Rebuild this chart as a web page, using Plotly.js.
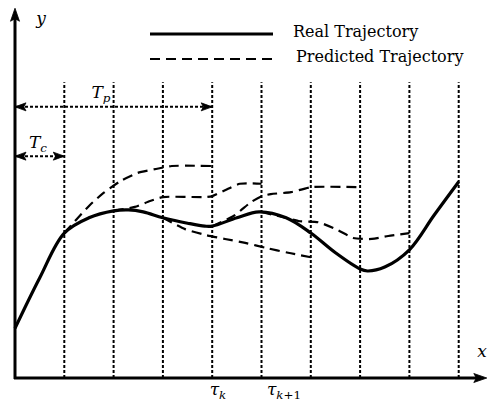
<!DOCTYPE html>
<html><head><meta charset="utf-8">
<script src="https://cdn.plot.ly/plotly-3.0.1.min.js"></script>
<style>html,body{margin:0;padding:0;background:#fff;}</style>
</head><body><div id="chart" style="width:489px;height:403px;"></div>
<script>
// ---- data (chart units: one sampling interval = 1) ----
const sampleTimes = [1, 2, 3, 4, 5, 6, 7, 8, 9];

const realX = [0, 0.5, 1, 1.5, 2, 2.3, 2.6, 3, 3.5, 3.85, 4, 4.5, 4.95, 5.5, 6, 6.5, 7, 7.15, 7.5, 8, 8.5, 9];
const realY = [1.01, 2.03, 2.94, 3.25, 3.39, 3.41, 3.37, 3.25, 3.14, 3.08, 3.08, 3.25, 3.37, 3.25, 2.94, 2.54, 2.21, 2.17, 2.25, 2.60, 3.30, 3.98];

const pred1X = [1, 1.26, 1.52, 1.79, 2.15, 2.49, 2.86, 3.18, 4];
const pred1Y = [2.94, 3.23, 3.51, 3.75, 4.00, 4.16, 4.24, 4.30, 4.30];

const pred2X = [2, 2.43, 2.74, 3, 3.85, 4, 4.26, 4.56, 5];
const pred2Y = [3.39, 3.47, 3.59, 3.67, 3.67, 3.69, 3.81, 3.94, 3.94];

const pred3X = [3, 3.45, 3.87, 4.26, 4.67, 5.09, 5.54, 6];
const pred3Y = [3.25, 3.02, 2.90, 2.82, 2.74, 2.64, 2.54, 2.45];

const pred4X = [4, 4.44, 4.79, 5.01, 5.19, 5.6, 6, 7];
const pred4Y = [3.08, 3.29, 3.57, 3.69, 3.73, 3.77, 3.87, 3.87];

const pred5X = [5, 5.48, 5.78, 6.15, 6.55, 6.86, 7.24, 7.57, 8];
const pred5Y = [3.37, 3.25, 3.18, 3.16, 3.00, 2.84, 2.82, 2.88, 2.94];

const predictions = [[pred1X, pred1Y], [pred2X, pred2Y], [pred3X, pred3Y], [pred4X, pred4Y], [pred5X, pred5Y]];

const gridTop = 6;
const Tp = 4, TpLevel = 5.5;
const Tc = 1, TcLevel = 4.5;
const yAxisTop = 7.5, xAxisEnd = 9.57;

const axisLabels = ['<i>y</i>', '<i>x</i>'];
const horizonLabels = ['<i>T</i><sub><i>p</i></sub>', '<i>T</i><sub><i>c</i></sub>'];
const instantLabels = ['<i>τ</i><sub><i>k</i></sub>', '<i>τ</i><sub><i>k</i>+1</sub>'];
const legendLabels = ['Real Trajectory', 'Predicted Trajectory'];

// ---- layout helpers (pixel -> chart units) ----
const U = 49.3, OX = 15, OY = 378;
const X = px => (px - OX) / U;
const Y = py => (OY - py) / U;

const serif = '"DejaVu Serif", serif';
const dotted = '3px,2px';

const traces = [];
predictions.forEach(([px, py]) => {
  traces.push({x: px, y: py, mode: 'lines', line: {color: 'black', width: 2.2, dash: '10px,6px', shape: 'spline', smoothing: 0.6}, hoverinfo: 'skip', showlegend: false, name: 'Predicted Trajectory'});
});
traces.push({x: realX, y: realY, mode: 'lines', line: {color: 'black', width: 3.2, shape: 'spline', smoothing: 1}, hoverinfo: 'skip', showlegend: false, name: 'Real Trajectory'});

traces.push({
  x: [X(41), X(482), X(101), X(38), X(218), X(284)],
  y: [Y(20), Y(353), Y(94), Y(144), Y(391), Y(391)],
  text: axisLabels.concat(horizonLabels, instantLabels),
  mode: 'text', textposition: 'middle center',
  textfont: {family: serif, size: 17, color: 'black'},
  hoverinfo: 'skip', showlegend: false
});
traces.push({
  x: [X(293), X(296)],
  y: [Y(33), Y(58)],
  text: legendLabels,
  mode: 'text', textposition: 'middle right',
  textfont: {family: serif, size: 16, color: 'black'},
  hoverinfo: 'skip', showlegend: false
});

const shapes = [];
sampleTimes.forEach(t => shapes.push({type: 'line', xref: 'x', yref: 'y', x0: t, x1: t, y0: 0, y1: gridTop, line: {color: 'black', width: 2, dash: dotted}}));
shapes.push({type: 'line', x0: 0, x1: Tp, y0: TpLevel, y1: TpLevel, line: {color: 'black', width: 2, dash: dotted}});
shapes.push({type: 'line', x0: 0, x1: Tc, y0: TcLevel, y1: TcLevel, line: {color: 'black', width: 2, dash: dotted}});
shapes.push({type: 'line', x0: 0, x1: 0, y0: -0.02, y1: yAxisTop - 0.15, line: {color: 'black', width: 3}});
shapes.push({type: 'line', x0: -0.02, x1: xAxisEnd - 0.15, y0: 0, y1: 0, line: {color: 'black', width: 3}});
shapes.push({type: 'line', x0: X(150), x1: X(273), y0: Y(34), y1: Y(34), line: {color: 'black', width: 3}});
shapes.push({type: 'line', x0: X(150), x1: X(275), y0: Y(59), y1: Y(59), line: {color: 'black', width: 2, dash: '10px,6px'}});

function head(xt, yt, dx, dy, len, hw) {
  const L = len / U, H = hw / U, N = 0.8 * L;
  const bx = xt - dx * L, by = yt - dy * L;
  const nx = xt - dx * N, ny = yt - dy * N;
  const px = -dy * H, py = dx * H;
  const p = `M${xt},${yt} L${bx + px},${by + py} L${nx},${ny} L${bx - px},${by - py} Z`;
  return {type: 'path', path: p, fillcolor: 'black', line: {color: 'black', width: 0.8}};
}
shapes.push(head(0, yAxisTop, 0, 1, 13, 4.5));
shapes.push(head(xAxisEnd, 0, 1, 0, 13, 4.5));
shapes.push(head(0, TpLevel, -1, 0, 11, 4));
shapes.push(head(Tp, TpLevel, 1, 0, 11, 4));
shapes.push(head(0, TcLevel, -1, 0, 11, 4));
shapes.push(head(Tc, TcLevel, 1, 0, 11, 4));

const layout = {
  width: 489, height: 403,
  margin: {l: 0, r: 0, t: 0, b: 0},
  paper_bgcolor: 'white', plot_bgcolor: 'white',
  font: {family: serif, size: 16, color: 'black'},
  xaxis: {range: [X(0), X(489)], visible: false, fixedrange: true},
  yaxis: {range: [Y(403), Y(0)], visible: false, fixedrange: true},
  shapes: shapes, showlegend: false, hovermode: false
};

Plotly.newPlot('chart', traces, layout, {displayModeBar: false});
</script></body></html>
